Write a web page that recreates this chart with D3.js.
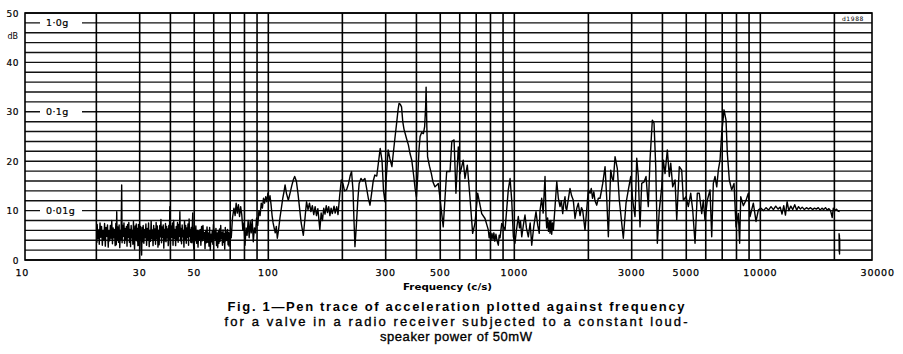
<!DOCTYPE html>
<html>
<head>
<meta charset="utf-8">
<script src="https://cdnjs.cloudflare.com/ajax/libs/d3/7.8.5/d3.min.js"></script>
<style>
body { margin: 0; background: #fff; }
svg { display: block; background: #fff; }
</style>
</head>
<body>
<svg width="903" height="354"></svg>
<script>
// pen trace as [frequency c/s, dB]
var lowBand = [[20.10,3.5],[20.15,7.2],[20.30,4.4],[20.45,6.1],[20.55,3.2],[20.70,7.5],[20.85,4.6],[21.00,6.8],[21.15,3.0],[21.30,6.0],[21.45,4.1],[21.60,7.4],[21.75,2.8],[21.90,6.6],[22.05,4.8],[22.20,7.1],[22.35,2.6],[22.50,5.9],[22.65,3.9],[22.80,7.0],[22.95,4.4],[23.10,8.0],[23.25,3.3],[23.40,6.5],[23.55,4.5],[23.70,6.2],[23.85,2.9],[24.00,7.4],[24.10,3.1],[24.20,9.8],[24.30,4.0],[24.45,6.7],[24.60,3.6],[24.75,7.1],[24.90,2.5],[25.05,6.0],[25.20,4.2],[25.35,15.2],[25.45,3.5],[25.60,7.0],[25.75,4.8],[25.90,7.5],[26.05,3.4],[26.20,6.4],[26.35,4.2],[26.50,6.8],[26.65,2.8],[26.80,7.2],[26.95,4.6],[27.10,7.6],[27.25,3.6],[27.40,6.2],[27.55,2.7],[27.70,7.0],[27.85,4.5],[28.00,6.0],[28.15,3.2],[28.30,7.8],[28.45,4.4],[28.60,2.2],[28.75,6.9],[28.90,4.1],[29.05,7.3],[29.20,3.9],[29.35,6.4],[29.50,2.9],[29.65,7.2],[29.80,3.0],[29.95,6.0],[30.10,4.0],[30.25,6.8],[30.40,2.5],[30.55,1.0],[30.70,6.6],[30.85,3.7],[31.00,7.0],[31.20,3.4],[31.40,6.2],[31.60,4.5],[31.80,7.3],[32.00,3.0],[32.20,6.4],[32.40,4.0],[32.60,7.5],[32.80,2.7],[33.00,6.0],[33.20,3.8],[33.40,7.9],[33.60,4.4],[33.80,6.1],[34.00,2.9],[34.20,7.0],[34.40,4.0],[34.60,6.3],[34.80,3.2],[35.00,7.6],[35.20,4.3],[35.40,6.9],[35.60,2.6],[35.80,6.0],[36.00,3.1],[36.20,7.0],[36.40,4.7],[36.60,8.2],[36.80,3.5],[37.00,6.7],[37.20,4.6],[37.40,7.1],[37.60,2.4],[37.80,6.2],[38.00,3.9],[38.20,7.4],[38.40,3.7],[38.60,6.8],[38.80,4.5],[39.00,6.3],[39.20,2.9],[39.40,7.0],[39.60,4.1],[39.80,10.8],[40.00,3.2],[40.25,6.9],[40.50,4.6],[40.75,7.5],[41.00,3.0],[41.25,8.0],[41.50,4.4],[41.75,6.2],[42.00,2.9],[42.25,6.8],[42.50,4.1],[42.75,7.6],[43.00,3.6],[43.25,7.2],[43.50,4.8],[43.70,9.8],[43.90,3.9],[44.15,6.4],[44.40,3.3],[44.65,7.1],[44.90,4.7],[45.15,6.0],[45.40,2.6],[45.65,7.9],[45.90,4.2],[46.15,7.0],[46.40,3.4],[46.65,6.5],[46.90,4.6],[47.15,7.3],[47.40,3.0],[47.65,8.3],[47.90,4.8],[48.15,6.2],[48.40,3.6],[48.65,6.6],[48.90,3.5],[49.10,7.0],[49.30,9.5],[49.55,4.0],[49.80,2.2],[50.05,6.5],[50.40,3.9],[50.75,6.9],[51.10,3.4],[51.45,6.0],[51.80,2.6],[52.15,5.8],[52.50,4.0],[52.85,6.2],[53.20,3.0],[53.55,6.8],[53.90,3.9],[54.25,7.0],[54.60,4.2],[54.95,5.6],[55.30,2.3],[55.65,6.0],[56.00,3.5],[56.35,6.7],[56.70,3.6],[57.05,5.5],[57.40,2.8],[57.75,6.6],[58.10,2.0],[58.45,5.2],[58.80,3.7],[59.15,5.9],[59.50,3.2],[59.85,7.2],[60.20,4.3],[60.55,6.0],[60.90,4.0],[61.25,6.4],[61.60,2.9],[61.95,5.5],[62.30,2.5],[62.65,5.8],[63.00,3.4],[63.35,6.3],[63.70,3.8],[64.05,7.0],[64.40,4.4],[64.75,5.6],[65.10,3.0],[65.45,6.1],[65.80,3.6],[66.15,5.3],[66.50,2.2],[66.85,6.6],[67.20,3.9],[67.55,5.7],[67.90,4.0],[68.25,6.2],[68.60,3.1],[68.95,5.6],[69.30,2.8],[69.65,5.4],[70.00,4.2],[70.35,6.2],[70.70,4.5]];

var midTrace = [[71.5,8.5],[72.5,10.5],[73.3,9.0],[74.0,11.5],[74.8,9.5],[75.6,11.2],[76.4,8.8],[77.2,10.8],[78.0,9.2],[78.8,6.0],[79.6,7.5],[80.4,3.0],[81.2,6.5],[82.0,5.0],[82.8,8.0],[83.6,4.5],[84.4,7.8],[85.2,5.5],[86.0,8.2],[86.9,3.7],[87.8,6.5],[88.7,5.5],[89.6,8.5],[90.6,7.0],[91.6,10.0],[92.6,9.0],[93.6,11.5],[94.6,10.5],[95.6,12.5],[96.6,11.5],[97.6,12.8],[98.6,11.8],[99.6,13.5],[100.6,12.0],[101.6,13.0],[102.6,11.2],[103.6,9.0],[104.6,7.5],[105.6,6.5],[106.7,5.5],[107.8,6.8],[108.8,4.4],[110,6.0],[111.5,8.5],[113,10.5],[114.5,12.5],[116,14.0],[117,15.2],[118.5,13.5],[120.6,12.1],[122.5,13.5],[124.5,15.0],[126.5,16.3],[128,16.9],[130,16.0],[132,13.5],[134,10.5],[136,7.5],[138.8,5.0],[141,8.5],[143,11.8],[145,10.2],[147,11.5],[149,9.8],[151,11.0],[153,9.2],[155,10.8],[157,9.0],[159,10.4],[162,6.1],[164,9.5],[166,8.0],[168,10.5],[170,9.3],[172,11.0],[174,9.6],[176,10.8],[178,9.0],[180,10.5],[182,9.4],[185,10.9],[187,9.5],[189.7,10.8],[192,9.2],[195,13.0],[198,16.2],[201,15.5],[204,14.0],[208,14.2],[212,15.5],[215,17.0],[218,17.9],[221,14.0],[223,8.0],[225,2.7],[228,7.0],[231,12.0],[234,15.5],[238,16.5],[242,16.0],[247,16.5],[251,14.5],[255,12.5],[259,11.1],[263,13.5],[267,16.0],[271,17.2],[276,17.0],[280,19.5],[285,22.6],[290,20.0],[294,14.0],[298,11.8],[302,17.0],[307,22.3],[312,20.5],[318,18.9],[322,21.5],[327,24.6],[332,27.5],[337,30.5],[340,31.7],[344,31.5],[348,31.0],[352,28.0],[356,26.5],[360,25.6],[365,24.5],[371,23.3],[377,21.5],[383,20.2],[390,17.0],[395,14.5],[400,12.8],[405,17.0],[410,22.5],[414,25.0],[420,25.8],[427,25.6],[432,27.0],[436,31.0],[438,35.0],[441,27.0],[444,20.9],[452,19.0],[460,17.5],[467,15.8],[476,14.8],[491,15.5],[514,6.7],[531,17.9],[548,17.9],[557,24.0],[569,24.3],[579,13.5],[592,22.9],[602,17.5],[620,20.2],[630,16.5],[644,19.2],[660,12.8],[677,5.4],[692,7.4],[710,13.5],[737,9.4],[760,8.4],[784,6.1],[790,4.5],[797,5.6],[804,4.0],[811,5.4],[819,4.2],[826,5.5],[833,3.8],[842,5.2],[850,4.0],[861,3.0],[868,5.0],[875,4.5],[882,6.0],[889,7.4],[917,6.1],[945,14.2],[961,16.5],[976,12.1],[991,4.7],[1006,3.4],[1020,6.0],[1038,8.8],[1050,6.5],[1060,7.8],[1072,4.7],[1088,7.0],[1105,9.1],[1120,6.5],[1140,4.7],[1160,7.5],[1177,3.0],[1200,6.8],[1225,9.8],[1245,7.0],[1263,5.4],[1272,10.0],[1292,12.5],[1310,9.5],[1333,16.9],[1345,9.0],[1354,6.5],[1366,8.5],[1377,5.8],[1390,7.8],[1397,5.4],[1408,8.0],[1419,5.2],[1430,7.5],[1441,6.0],[1465,11.0],[1488,15.9],[1510,12.5],[1534,10.8],[1553,12.0],[1573,9.4],[1590,11.5],[1607,12.8],[1620,10.5],[1633,10.1],[1660,12.5],[1684,14.5],[1710,13.0],[1737,12.1],[1765,8.4],[1795,10.5],[1820,11.5],[1850,9.0],[1875,10.6],[1897,10.0],[1938,6.0],[1999,14.2],[2031,13.5],[2055,14.5],[2079,12.5],[2105,13.8],[2128,12.0],[2163,11.1],[2195,12.5],[2231,12.5],[2260,14.0],[2288,15.5],[2338,18.9],[2375,12.5],[2411,4.7],[2440,12.0],[2466,18.2],[2500,16.5],[2526,16.0],[2567,20.9],[2623,18.5],[2672,12.1],[2700,10.0],[2733,7.4],[2774,4.4],[2845,11.5],[2907,14.2],[2973,16.9],[3029,12.1],[3095,8.8],[3145,20.6],[3192,16.9],[3243,6.7],[3295,15.5],[3367,15.8],[3431,16.9],[3505,10.8],[3561,20.2],[3639,28.3],[3698,27.7],[3757,18.9],[3814,3.4],[3885,10.1],[3974,14.8],[4034,20.2],[4099,17.5],[4188,22.3],[4267,16.9],[4323,19.6],[4404,14.8],[4501,16.2],[4573,8.1],[4685,18.9],[4791,18.2],[4864,12.1],[4989,12.8],[5096,10.8],[5213,13.5],[5311,10.1],[5427,3.4],[5545,13.5],[5649,13.5],[5778,9.4],[5865,12.1],[5959,8.1],[6089,12.1],[6245,14.2],[6345,4.7],[6441,15.5],[6545,16.9],[6650,14.8],[6750,18.2],[6858,20.2],[6967,25.6],[7119,30.4],[7254,28.3],[7343,21.6],[7482,16.2],[7651,14.2],[7818,15.5],[7965,6.7],[8139,9.4],[8240,3.4],[8325,12.8],[8530,11.0],[8749,12.1],[8939,13.5],[9082,8.8],[9366,11.5],[9605,7.8],[9815,10.1],[10040,10.5]];

var highBand = [[10300,10.0],[10550,10.6],[10800,10.1],[11050,10.8],[11300,10.2],[11550,10.9],[11800,10.3],[12050,10.7],[12250,9.3],[12450,11.0],[12650,9.1],[12850,11.8],[13050,10.0],[13300,10.9],[13550,10.2],[13800,11.2],[14050,10.1],[14300,10.8],[14550,10.3],[14800,10.7],[15100,10.2],[15400,10.6],[15700,10.3],[16000,10.6],[16300,10.2],[16600,10.5],[16900,10.3],[17200,10.6],[17500,10.1],[17800,10.5],[18100,10.2],[18400,10.6],[18700,10.1],[19000,10.4],[19300,10.0],[19600,8.6],[19800,10.5],[20100,10.0],[20400,10.3],[20700,9.9],[21000,9.8]];

var tailMark = [[20900,5.4],[20930,1.6],[20960,5.0],[20990,1.2],[21010,4.4],[21030,2.0]];

var gridFreqs = [20,30,40,50,60,70,80,90,100,200,300,400,500,600,700,800,900,1000,2000,3000,4000,5000,6000,7000,8000,9000,10000,20000];
var freqTicks = [10,30,50,100,300,500,1000,3000,5000,10000,30000];
var dbTicks = [0,10,20,30,40,50];
var gLevels = [48,30,10];
var gNames = ['1·0g','0·1g','0·01g'];
var captionLines = [
  'Fig. 1—Pen trace of acceleration plotted against frequency',
  'for a valve in a radio receiver subjected to a constant loud-',
  'speaker power of 50mW'
];

var svg = d3.select('svg');
var plotLeft = 25, plotRight = 872, plotTop = 13, plotBottom = 260;

var x = d3.scaleLog().domain([10, 30000]).range([22.3, 877.7]);
var y = d3.scaleLinear().domain([0, 50]).range([plotBottom, plotTop]);

var tickFont = 'DejaVu Sans, Verdana, sans-serif';

// horizontal rulings every 2 dB
svg.append('g').selectAll('line')
  .data(d3.range(0, 51, 2))
  .join('line')
  .attr('x1', plotLeft).attr('x2', plotRight)
  .attr('y1', d => y(d)).attr('y2', d => y(d))
  .attr('stroke', '#111')
  .attr('stroke-width', 1.4);

// vertical rulings
svg.append('g').selectAll('line')
  .data(gridFreqs)
  .join('line')
  .attr('x1', d => x(d)).attr('x2', d => x(d))
  .attr('y1', plotTop).attr('y2', plotBottom)
  .attr('stroke', '#000')
  .attr('stroke-width', 1.6);

svg.append('rect')
  .attr('x', plotLeft).attr('y', plotTop)
  .attr('width', plotRight - plotLeft).attr('height', plotBottom - plotTop)
  .attr('fill', 'none')
  .attr('stroke', '#000')
  .attr('stroke-width', 1.6);

// acceleration levels written on the rulings
gLevels.forEach((lv, i) => {
  svg.append('rect')
    .attr('x', 40).attr('y', y(lv) - 5)
    .attr('width', 42).attr('height', 10)
    .attr('fill', '#fff');
  svg.append('text')
    .attr('x', 46).attr('y', y(lv) + 3.5)
    .attr('font-family', tickFont)
    .attr('font-size', 9.5)
    .attr('letter-spacing', 0.4)
    .attr('stroke', '#000').attr('stroke-width', 0.2)
    .text(gNames[i]);
});

var line = d3.line().x(d => x(d[0])).y(d => y(d[1]));

[lowBand.concat(midTrace, highBand), tailMark].forEach(seg => {
  svg.append('path')
    .attr('d', line(seg))
    .attr('fill', 'none')
    .attr('stroke', '#000')
    .attr('stroke-width', 1.4)
    .attr('stroke-linejoin', 'round');
});

// axis labels
svg.append('g').selectAll('text')
  .data(freqTicks)
  .join('text')
  .attr('x', d => x(d))
  .attr('y', 276)
  .attr('text-anchor', 'middle')
  .attr('font-family', tickFont)
  .attr('font-size', 9.5)
  .attr('letter-spacing', 0.8)
  .attr('stroke', '#000').attr('stroke-width', 0.25)
  .text(d => d);

svg.append('g').selectAll('text')
  .data(dbTicks)
  .join('text')
  .attr('x', 19)
  .attr('y', d => Math.max(y(d) + 3.5, 14))
  .attr('text-anchor', 'end')
  .attr('font-family', tickFont)
  .attr('font-size', 9)
  .attr('letter-spacing', 0.5)
  .attr('stroke', '#000').attr('stroke-width', 0.2)
  .text(d => d);

svg.append('text')
  .attr('x', 18).attr('y', 38.5)
  .attr('text-anchor', 'end')
  .attr('font-family', tickFont)
  .attr('font-size', 8)
  .text('dB');

svg.append('text')
  .attr('x', 853).attr('y', 21)
  .attr('text-anchor', 'middle')
  .attr('font-family', tickFont)
  .attr('font-size', 6)
  .attr('letter-spacing', 0.6)
  .text('d1988');

svg.append('text')
  .attr('x', 403).attr('y', 290)
  .attr('font-family', tickFont)
  .attr('font-weight', 'bold')
  .attr('font-size', 8.5)
  .attr('textLength', 89)
  .attr('lengthAdjust', 'spacingAndGlyphs')
  .text('Frequency (c/s)');

var capWidths = [457, 463, 152];
captionLines.forEach((t, i) => {
  svg.append('text')
    .attr('x', 456).attr('y', 311 + i * 15)
    .attr('text-anchor', 'middle')
    .attr('font-family', 'Liberation Sans, Arial, sans-serif')
    .attr('font-size', 13)
    .attr('font-weight', i === 0 ? 'bold' : 'normal')
    .attr('stroke', i === 0 ? 'none' : '#000')
    .attr('stroke-width', 0.35)
    .attr('textLength', capWidths[i])
    .attr('lengthAdjust', 'spacing')
    .text(t);
});
</script>
</body>
</html>
